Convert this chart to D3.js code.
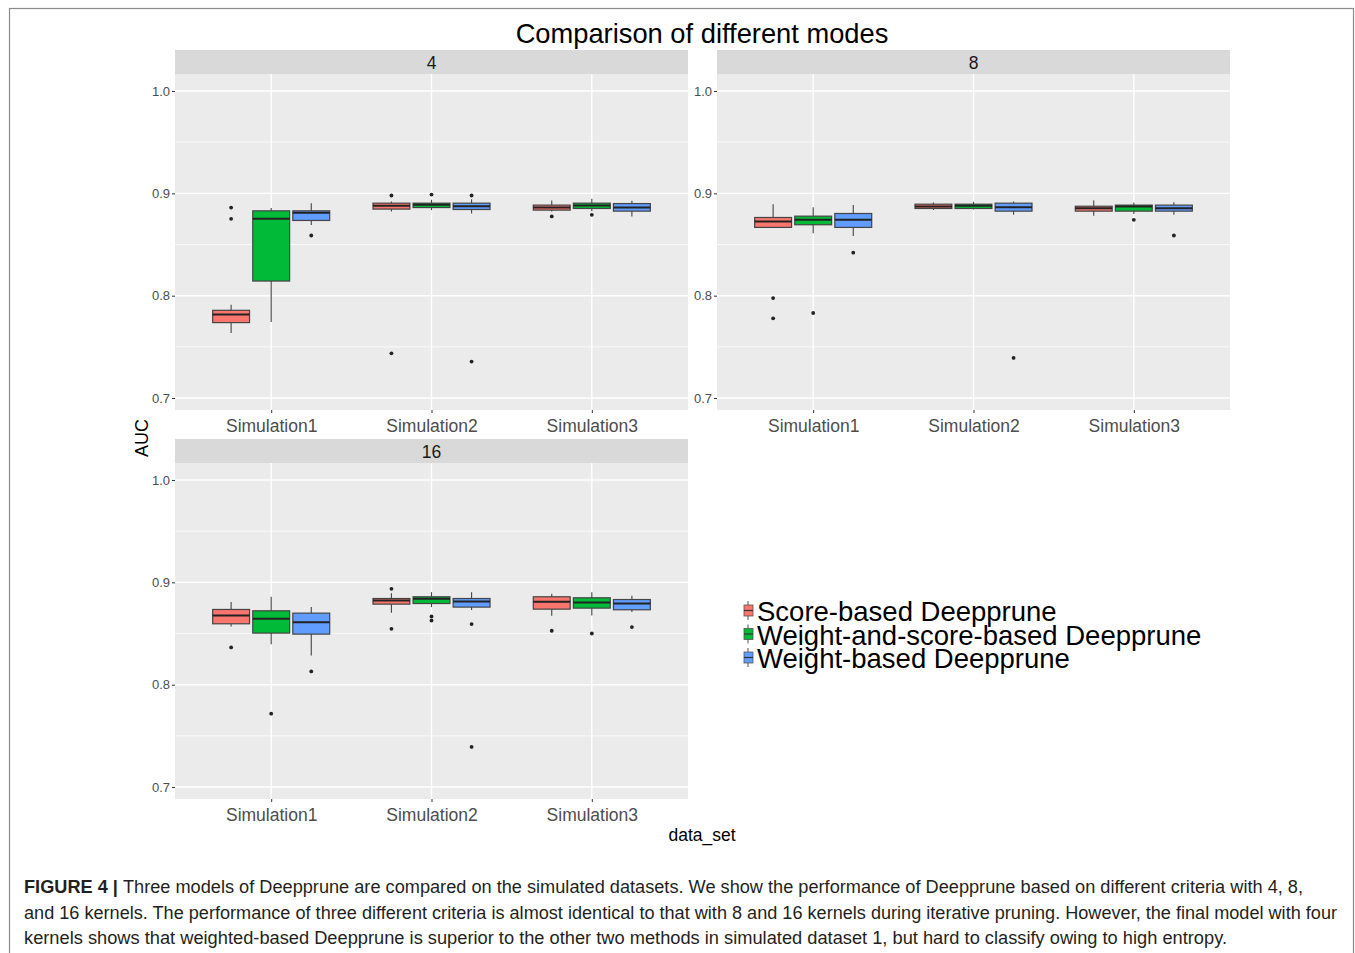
<!DOCTYPE html>
<html lang="en">
<head>
  <meta charset="utf-8">
  <title>Comparison of different modes</title>
  <script src="https://cdn.jsdelivr.net/npm/d3@7"></script>
  <style>
  body { margin: 0; background: #fff; }
  svg { font-family: "Liberation Sans", Arial, sans-serif; }
  </style>
</head>
<body>
<script>
  // categories
  var kernels = ["4", "8", "16"];
  var dataSets = ["Simulation1", "Simulation2", "Simulation3"];
  var models = ["Score-based Deepprune", "Weight-and-score-based Deepprune", "Weight-based Deepprune"];
  var yTicks = [0.7, 0.8, 0.9, 1.0];
  var yMinor = [0.75, 0.85, 0.95];

  // [lower whisker, q1, median, q3, upper whisker], ordered by data set then model
  var box4 = [
    [0.7636, 0.7737, 0.7815, 0.7857, 0.7912],
    [0.7743, 0.8143, 0.8751, 0.8829, 0.8856],
    [0.8690, 0.8735, 0.8810, 0.8829, 0.8904],
    [0.8822, 0.8846, 0.8878, 0.8904, 0.8920],
    [0.8836, 0.8861, 0.8888, 0.8904, 0.8937],
    [0.8803, 0.8842, 0.8874, 0.8904, 0.8943],
    [0.8822, 0.8836, 0.8861, 0.8885, 0.8930],
    [0.8826, 0.8852, 0.8881, 0.8904, 0.8946],
    [0.8774, 0.8826, 0.8861, 0.8900, 0.8927]
  ];
  var out4 = [
    [0.8861, 0.8751], [], [0.8588],
    [0.8979, 0.7437], [0.8988], [0.8979, 0.7356],
    [0.8774], [0.8790], []
  ];
  var box8 = [
    [0.8667, 0.8667, 0.8725, 0.8764, 0.8894],
    [0.8611, 0.8693, 0.8741, 0.8777, 0.8865],
    [0.8582, 0.8667, 0.8741, 0.8803, 0.8885],
    [0.8836, 0.8852, 0.8871, 0.8894, 0.8910],
    [0.8842, 0.8852, 0.8878, 0.8894, 0.8917],
    [0.8790, 0.8826, 0.8865, 0.8904, 0.8920],
    [0.8780, 0.8826, 0.8855, 0.8874, 0.8930],
    [0.8797, 0.8826, 0.8871, 0.8885, 0.8910],
    [0.8790, 0.8826, 0.8855, 0.8885, 0.8914]
  ];
  var out8 = [
    [0.7977, 0.7779], [0.7831], [0.8420],
    [], [], [0.7392],
    [], [0.8741], [0.8588]
  ];
  var box16 = [
    [0.8569, 0.8595, 0.8676, 0.8735, 0.8807],
    [0.8394, 0.8504, 0.8644, 0.8722, 0.8859],
    [0.8286, 0.8494, 0.8611, 0.8699, 0.8758],
    [0.8702, 0.8787, 0.8823, 0.8842, 0.8894],
    [0.8758, 0.8793, 0.8839, 0.8859, 0.8904],
    [0.8729, 0.8758, 0.8813, 0.8842, 0.8904],
    [0.8673, 0.8738, 0.8810, 0.8859, 0.8888],
    [0.8676, 0.8748, 0.8803, 0.8849, 0.8904],
    [0.8709, 0.8732, 0.8793, 0.8832, 0.8868]
  ];
  var out16 = [
    [0.8364], [0.7717], [0.8130],
    [0.8937, 0.8546], [0.8667, 0.8627], [0.8592, 0.7392],
    [0.8527], [0.8500], [0.8563]
  ];
  var colors = ["#F8766D", "#00BA38", "#619CFF"];

  var captionLines = [
    ["FIGURE 4 | ", "Three models of Deepprune are compared on the simulated datasets. We show the performance of Deepprune based on different criteria with 4, 8,"],
    ["", "and 16 kernels. The performance of three different criteria is almost identical to that with 8 and 16 kernels during iterative pruning. However, the final model with four"],
    ["", "kernels shows that weighted-based Deepprune is superior to the other two methods in simulated dataset 1, but hard to classify owing to high entropy."]
  ];
  var captionEnds = [1303, 1337, 1227];

  var width = 1355, height = 953;

  var svg = d3.select("body").append("svg")
    .attr("width", width)
    .attr("height", height);

  // outer frame
  svg.append("rect")
    .attr("x", 9.5).attr("y", 8.5)
    .attr("width", 1344).attr("height", 960)
    .attr("fill", "none")
    .attr("stroke", "#8c8c8c")
    .attr("stroke-width", 1.2);

  svg.append("text")
    .attr("x", 702).attr("y", 43)
    .attr("text-anchor", "middle")
    .attr("font-size", 27.3)
    .attr("fill", "#000")
    .text("Comparison of different modes");

  var panels = [
    {label: kernels[0], boxes: box4, outs: out4, x: 175, y: 50},
    {label: kernels[1], boxes: box8, outs: out8, x: 717, y: 50},
    {label: kernels[2], boxes: box16, outs: out16, x: 175, y: 439}
  ];
  var pw = 513, stripH = 24, ph = 336;

  panels.forEach(function(p) {
    var g = svg.append("g").attr("transform", "translate(" + p.x + "," + p.y + ")");

    // strip
    g.append("rect").attr("width", pw).attr("height", stripH).attr("fill", "#D9D9D9");
    g.append("text")
      .attr("x", pw / 2).attr("y", 19)
      .attr("text-anchor", "middle")
      .attr("font-size", 17.5)
      .attr("fill", "#1a1a1a")
      .text(p.label);

    var pg = g.append("g").attr("transform", "translate(0," + stripH + ")");
    pg.append("rect").attr("width", pw).attr("height", ph).attr("fill", "#EBEBEB");

    var x = d3.scaleLinear().domain([0.4, 3.6]).range([0, pw]);
    var y = d3.scaleLinear().domain([0.6883, 1.0166]).range([ph, 0]);

    // grid
    pg.selectAll(".minor").data(yMinor).enter().append("line")
      .attr("x1", 0).attr("x2", pw)
      .attr("y1", function(d) { return y(d); })
      .attr("y2", function(d) { return y(d); })
      .attr("stroke", "#fff").attr("stroke-width", 0.7);
    pg.selectAll(".major").data(yTicks).enter().append("line")
      .attr("x1", 0).attr("x2", pw)
      .attr("y1", function(d) { return y(d); })
      .attr("y2", function(d) { return y(d); })
      .attr("stroke", "#fff").attr("stroke-width", 1.4);
    pg.selectAll(".vmajor").data(dataSets).enter().append("line")
      .attr("x1", function(d, i) { return x(i + 1); })
      .attr("x2", function(d, i) { return x(i + 1); })
      .attr("y1", 0).attr("y2", ph)
      .attr("stroke", "#fff").attr("stroke-width", 1.4);

    // axes
    var yAxis = d3.axisLeft(y).tickValues(yTicks).tickFormat(d3.format(".1f")).tickSize(3).tickPadding(2);
    var ya = pg.append("g").call(yAxis);
    ya.select(".domain").remove();
    ya.selectAll("line").attr("stroke", "#333");
    ya.selectAll("text").attr("font-size", 13).attr("fill", "#4d4d4d")
      .attr("font-family", "Liberation Sans, Arial, sans-serif");

    var xAxis = d3.axisBottom(x).tickValues([1, 2, 3])
      .tickFormat(function(d) { return dataSets[d - 1]; }).tickSize(3).tickPadding(7);
    var xa = pg.append("g").attr("transform", "translate(0," + ph + ")").call(xAxis);
    xa.select(".domain").remove();
    xa.selectAll("line").attr("stroke", "#333");
    xa.selectAll("text").attr("font-size", 17.5).attr("fill", "#4d4d4d")
      .attr("font-family", "Liberation Sans, Arial, sans-serif");

    // boxes
    var items = [];
    p.boxes.forEach(function(b, i) {
      items.push({ds: Math.floor(i / 3), m: i % 3, s: b, o: p.outs[i]});
    });
    var bw = 0.23;
    var bg = pg.selectAll(".box").data(items).enter().append("g");
    function cx(d) { return x(d.ds + 1 + (d.m - 1) * 0.25); }

    bg.append("line")
      .attr("x1", cx).attr("x2", cx)
      .attr("y1", function(d) { return y(d.s[0]); })
      .attr("y2", function(d) { return y(d.s[4]); })
      .attr("stroke", "#444").attr("stroke-width", 1.1);
    bg.append("rect")
      .attr("x", function(d) { return x(d.ds + 1 + (d.m - 1) * 0.25 - bw / 2); })
      .attr("width", x(bw) - x(0))
      .attr("y", function(d) { return y(d.s[3]); })
      .attr("height", function(d) { return Math.max(1, y(d.s[1]) - y(d.s[3])); })
      .attr("fill", function(d) { return colors[d.m]; })
      .attr("stroke", "#444").attr("stroke-width", 1.2);
    bg.append("line")
      .attr("x1", function(d) { return x(d.ds + 1 + (d.m - 1) * 0.25 - bw / 2); })
      .attr("x2", function(d) { return x(d.ds + 1 + (d.m - 1) * 0.25 + bw / 2); })
      .attr("y1", function(d) { return y(d.s[2]); })
      .attr("y2", function(d) { return y(d.s[2]); })
      .attr("stroke", "#222").attr("stroke-width", 2);
    bg.selectAll(".out").data(function(d) {
      return d.o.map(function(v) { return {v: v, d: d}; });
    }).enter().append("circle")
      .attr("cx", function(e) { return cx(e.d); })
      .attr("cy", function(e) { return y(e.v); })
      .attr("r", 1.9)
      .attr("fill", "#222");
  });

  // axis titles
  svg.append("text")
    .attr("transform", "translate(148,438) rotate(-90)")
    .attr("text-anchor", "middle")
    .attr("font-size", 18)
    .attr("fill", "#000")
    .text("AUC");
  svg.append("text")
    .attr("x", 702).attr("y", 841)
    .attr("text-anchor", "middle")
    .attr("font-size", 17.5)
    .attr("fill", "#000")
    .text("data_set");

  // legend
  var lg = svg.append("g").attr("transform", "translate(743,601)");
  var li = lg.selectAll(".li").data(models).enter().append("g")
    .attr("transform", function(d, i) { return "translate(0," + (i * 23.5) + ")"; });
  li.append("line")
    .attr("x1", 5).attr("x2", 5).attr("y1", 0).attr("y2", 19)
    .attr("stroke", "#555").attr("stroke-width", 1);
  li.append("rect")
    .attr("x", 1).attr("y", 4).attr("width", 9).attr("height", 11)
    .attr("fill", function(d, i) { return colors[i]; })
    .attr("stroke", "#555").attr("stroke-width", 0.8);
  li.append("line")
    .attr("x1", 1).attr("x2", 10).attr("y1", 9.5).attr("y2", 9.5)
    .attr("stroke", "#333").attr("stroke-width", 1.2);
  li.append("text")
    .attr("x", 14).attr("y", 20)
    .attr("font-size", 27.5)
    .attr("fill", "#000")
    .text(function(d) { return d; });

  // caption
  captionLines.forEach(function(l, i) {
    var t = svg.append("text")
      .attr("x", 24).attr("y", 893 + i * 25.5)
      .attr("font-size", 17.5)
      .attr("fill", "#231f20")
      .attr("textLength", captionEnds[i] - 24)
      .attr("lengthAdjust", "spacingAndGlyphs");
    if (l[0]) t.append("tspan").attr("font-weight", "bold").text(l[0]);
    t.append("tspan").text(l[1]);
  });
</script>
</body>
</html>
